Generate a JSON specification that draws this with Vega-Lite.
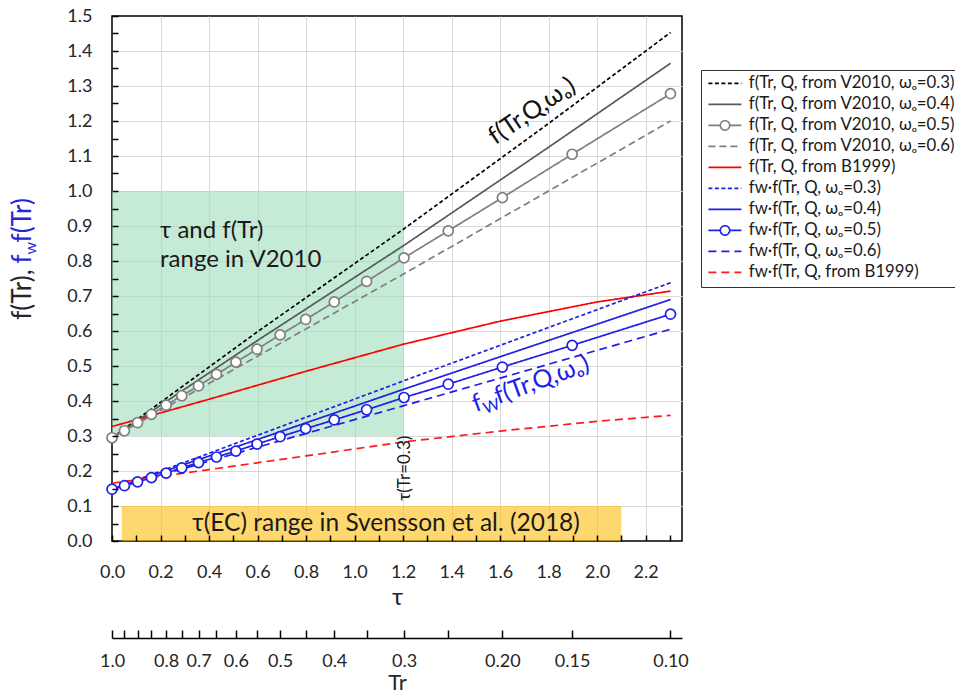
{
  "$schema": "https://vega.github.io/schema/vega-lite/v6.json",
  "width": 570,
  "height": 525,
  "autosize": {"type": "none"},
  "padding": {"left": 112, "top": 16, "right": 273, "bottom": 156},
  "background": "white",
  "config": {
    "font": "Lato",
    "view": {"stroke": "#000000", "strokeWidth": 1.5},
    "axis": {
      "labelFont": "Lato", "labelFontSize": 18, "labelColor": "#262626",
      "tickColor": "#000000", "tickWidth": 1.5,
      "domainColor": "#000000", "domainWidth": 1.5,
      "titleFont": "Lato", "titleFontSize": 24, "titleFontWeight": "normal", "titleColor": "#262626",
      "labelFlush": false, "labelOverlap": false, "grid": false
    },
    "text": {"font": "Lato"}
  },
  "datasets": {
    "ranges": [
      {"name": "V2010", "x1": 0, "x2": 1.204, "y1": 0.3, "y2": 1.0},
      {"name": "Svensson", "x1": 0.04, "x2": 2.1, "y1": 0.0, "y2": 0.1}
    ],
    "curves": [
      {"series": "f(Tr, Q, from V2010, ωₒ=0.3)", "tau": 0, "v": 0.295},
      {"series": "f(Tr, Q, from V2010, ωₒ=0.3)", "tau": 0.6, "v": 0.598},
      {"series": "f(Tr, Q, from V2010, ωₒ=0.3)", "tau": 1.2, "v": 0.89},
      {"series": "f(Tr, Q, from V2010, ωₒ=0.3)", "tau": 1.8, "v": 1.193},
      {"series": "f(Tr, Q, from V2010, ωₒ=0.3)", "tau": 2.303, "v": 1.453},
      {"series": "f(Tr, Q, from V2010, ωₒ=0.4)", "tau": 0, "v": 0.295},
      {"series": "f(Tr, Q, from V2010, ωₒ=0.4)", "tau": 0.6, "v": 0.573},
      {"series": "f(Tr, Q, from V2010, ωₒ=0.4)", "tau": 1.2, "v": 0.843},
      {"series": "f(Tr, Q, from V2010, ωₒ=0.4)", "tau": 1.8, "v": 1.125},
      {"series": "f(Tr, Q, from V2010, ωₒ=0.4)", "tau": 2.303, "v": 1.365},
      {"series": "f(Tr, Q, from V2010, ωₒ=0.5)", "Tr": 1.0, "tau": 0, "v": 0.295},
      {"series": "f(Tr, Q, from V2010, ωₒ=0.5)", "Tr": 0.95, "tau": 0.051, "v": 0.315},
      {"series": "f(Tr, Q, from V2010, ωₒ=0.5)", "Tr": 0.9, "tau": 0.105, "v": 0.338},
      {"series": "f(Tr, Q, from V2010, ωₒ=0.5)", "Tr": 0.85, "tau": 0.163, "v": 0.362},
      {"series": "f(Tr, Q, from V2010, ωₒ=0.5)", "Tr": 0.8, "tau": 0.223, "v": 0.388},
      {"series": "f(Tr, Q, from V2010, ωₒ=0.5)", "Tr": 0.75, "tau": 0.288, "v": 0.415},
      {"series": "f(Tr, Q, from V2010, ωₒ=0.5)", "Tr": 0.7, "tau": 0.357, "v": 0.443},
      {"series": "f(Tr, Q, from V2010, ωₒ=0.5)", "Tr": 0.65, "tau": 0.431, "v": 0.476},
      {"series": "f(Tr, Q, from V2010, ωₒ=0.5)", "Tr": 0.6, "tau": 0.511, "v": 0.511},
      {"series": "f(Tr, Q, from V2010, ωₒ=0.5)", "Tr": 0.55, "tau": 0.598, "v": 0.548},
      {"series": "f(Tr, Q, from V2010, ωₒ=0.5)", "Tr": 0.5, "tau": 0.693, "v": 0.589},
      {"series": "f(Tr, Q, from V2010, ωₒ=0.5)", "Tr": 0.45, "tau": 0.799, "v": 0.633},
      {"series": "f(Tr, Q, from V2010, ωₒ=0.5)", "Tr": 0.4, "tau": 0.916, "v": 0.683},
      {"series": "f(Tr, Q, from V2010, ωₒ=0.5)", "Tr": 0.35, "tau": 1.05, "v": 0.742},
      {"series": "f(Tr, Q, from V2010, ωₒ=0.5)", "Tr": 0.3, "tau": 1.204, "v": 0.809},
      {"series": "f(Tr, Q, from V2010, ωₒ=0.5)", "Tr": 0.25, "tau": 1.386, "v": 0.886},
      {"series": "f(Tr, Q, from V2010, ωₒ=0.5)", "Tr": 0.2, "tau": 1.609, "v": 0.981},
      {"series": "f(Tr, Q, from V2010, ωₒ=0.5)", "Tr": 0.15, "tau": 1.897, "v": 1.105},
      {"series": "f(Tr, Q, from V2010, ωₒ=0.5)", "Tr": 0.1, "tau": 2.303, "v": 1.278},
      {"series": "f(Tr, Q, from V2010, ωₒ=0.6)", "tau": 0, "v": 0.295},
      {"series": "f(Tr, Q, from V2010, ωₒ=0.6)", "tau": 0.6, "v": 0.528},
      {"series": "f(Tr, Q, from V2010, ωₒ=0.6)", "tau": 1.2, "v": 0.762},
      {"series": "f(Tr, Q, from V2010, ωₒ=0.6)", "tau": 1.8, "v": 1.0},
      {"series": "f(Tr, Q, from V2010, ωₒ=0.6)", "tau": 2.303, "v": 1.2},
      {"series": "f(Tr, Q, from B1999)", "tau": 0, "v": 0.327},
      {"series": "f(Tr, Q, from B1999)", "tau": 0.4, "v": 0.405},
      {"series": "f(Tr, Q, from B1999)", "tau": 0.8, "v": 0.485},
      {"series": "f(Tr, Q, from B1999)", "tau": 1.2, "v": 0.562},
      {"series": "f(Tr, Q, from B1999)", "tau": 1.6, "v": 0.628},
      {"series": "f(Tr, Q, from B1999)", "tau": 2.0, "v": 0.683},
      {"series": "f(Tr, Q, from B1999)", "tau": 2.303, "v": 0.714},
      {"series": "fw·f(Tr, Q, ωₒ=0.3)", "tau": 0, "v": 0.148},
      {"series": "fw·f(Tr, Q, ωₒ=0.3)", "tau": 0.6, "v": 0.302},
      {"series": "fw·f(Tr, Q, ωₒ=0.3)", "tau": 1.2, "v": 0.457},
      {"series": "fw·f(Tr, Q, ωₒ=0.3)", "tau": 1.8, "v": 0.61},
      {"series": "fw·f(Tr, Q, ωₒ=0.3)", "tau": 2.303, "v": 0.738},
      {"series": "fw·f(Tr, Q, ωₒ=0.4)", "tau": 0, "v": 0.148},
      {"series": "fw·f(Tr, Q, ωₒ=0.4)", "tau": 0.6, "v": 0.29},
      {"series": "fw·f(Tr, Q, ωₒ=0.4)", "tau": 1.2, "v": 0.433},
      {"series": "fw·f(Tr, Q, ωₒ=0.4)", "tau": 1.8, "v": 0.573},
      {"series": "fw·f(Tr, Q, ωₒ=0.4)", "tau": 2.303, "v": 0.69},
      {"series": "fw·f(Tr, Q, ωₒ=0.5)", "Tr": 1.0, "tau": 0, "v": 0.148},
      {"series": "fw·f(Tr, Q, ωₒ=0.5)", "Tr": 0.95, "tau": 0.051, "v": 0.158},
      {"series": "fw·f(Tr, Q, ωₒ=0.5)", "Tr": 0.9, "tau": 0.105, "v": 0.169},
      {"series": "fw·f(Tr, Q, ωₒ=0.5)", "Tr": 0.85, "tau": 0.163, "v": 0.181},
      {"series": "fw·f(Tr, Q, ωₒ=0.5)", "Tr": 0.8, "tau": 0.223, "v": 0.194},
      {"series": "fw·f(Tr, Q, ωₒ=0.5)", "Tr": 0.75, "tau": 0.288, "v": 0.209},
      {"series": "fw·f(Tr, Q, ωₒ=0.5)", "Tr": 0.7, "tau": 0.357, "v": 0.224},
      {"series": "fw·f(Tr, Q, ωₒ=0.5)", "Tr": 0.65, "tau": 0.431, "v": 0.24},
      {"series": "fw·f(Tr, Q, ωₒ=0.5)", "Tr": 0.6, "tau": 0.511, "v": 0.257},
      {"series": "fw·f(Tr, Q, ωₒ=0.5)", "Tr": 0.55, "tau": 0.598, "v": 0.277},
      {"series": "fw·f(Tr, Q, ωₒ=0.5)", "Tr": 0.5, "tau": 0.693, "v": 0.298},
      {"series": "fw·f(Tr, Q, ωₒ=0.5)", "Tr": 0.45, "tau": 0.799, "v": 0.321},
      {"series": "fw·f(Tr, Q, ωₒ=0.5)", "Tr": 0.4, "tau": 0.916, "v": 0.346},
      {"series": "fw·f(Tr, Q, ωₒ=0.5)", "Tr": 0.35, "tau": 1.05, "v": 0.375},
      {"series": "fw·f(Tr, Q, ωₒ=0.5)", "Tr": 0.3, "tau": 1.204, "v": 0.41},
      {"series": "fw·f(Tr, Q, ωₒ=0.5)", "Tr": 0.25, "tau": 1.386, "v": 0.448},
      {"series": "fw·f(Tr, Q, ωₒ=0.5)", "Tr": 0.2, "tau": 1.609, "v": 0.497},
      {"series": "fw·f(Tr, Q, ωₒ=0.5)", "Tr": 0.15, "tau": 1.897, "v": 0.559},
      {"series": "fw·f(Tr, Q, ωₒ=0.5)", "Tr": 0.1, "tau": 2.303, "v": 0.648},
      {"series": "fw·f(Tr, Q, ωₒ=0.6)", "tau": 0, "v": 0.148},
      {"series": "fw·f(Tr, Q, ωₒ=0.6)", "tau": 0.6, "v": 0.268},
      {"series": "fw·f(Tr, Q, ωₒ=0.6)", "tau": 1.2, "v": 0.386},
      {"series": "fw·f(Tr, Q, ωₒ=0.6)", "tau": 1.8, "v": 0.505},
      {"series": "fw·f(Tr, Q, ωₒ=0.6)", "tau": 2.303, "v": 0.605},
      {"series": "fw·f(Tr, Q, from B1999)", "tau": 0, "v": 0.165},
      {"series": "fw·f(Tr, Q, from B1999)", "tau": 0.4, "v": 0.204},
      {"series": "fw·f(Tr, Q, from B1999)", "tau": 0.8, "v": 0.243},
      {"series": "fw·f(Tr, Q, from B1999)", "tau": 1.2, "v": 0.283},
      {"series": "fw·f(Tr, Q, from B1999)", "tau": 1.6, "v": 0.314},
      {"series": "fw·f(Tr, Q, from B1999)", "tau": 2.0, "v": 0.342},
      {"series": "fw·f(Tr, Q, from B1999)", "tau": 2.303, "v": 0.359}
    ]
  },
  "layer": [
    {
      "data": {"name": "ranges"},
      "mark": {"type": "rect", "opacity": 0.6},
      "encoding": {
        "x": {"field": "x1", "type": "quantitative", "scale": {"domain": [0, 2.35], "nice": false, "zero": false},
          "axis": {"grid": true, "ticks": false, "labels": false, "domain": false, "title": null, "values": [0.2, 0.4, 0.6, 0.8, 1.0, 1.2, 1.4, 1.6, 1.8, 2.0, 2.2], "gridColor": "#d9d9d9", "gridWidth": 1, "zindex": 0}},
        "x2": {"field": "x2"},
        "y": {"field": "y1", "type": "quantitative", "scale": {"domain": [0, 1.5], "nice": false, "zero": false},
          "axis": {"grid": true, "ticks": false, "labels": false, "domain": false, "title": null, "values": [0.1, 0.2, 0.3, 0.4, 0.5, 0.6, 0.7, 0.8, 0.9, 1.0, 1.1, 1.2, 1.3, 1.4], "gridColor": "#d9d9d9", "gridWidth": 1, "zindex": 0}},
        "y2": {"field": "y2"},
        "fill": {"field": "name", "type": "nominal", "scale": {"domain": ["V2010", "Svensson"], "range": ["#9edebb", "#fdbe0d"]}, "legend": null}
      }
    },
    {
      "data": {"name": "curves"},
      "mark": {"type": "line", "strokeWidth": 1.7},
      "encoding": {
        "x": {"field": "tau", "type": "quantitative", "scale": {"domain": [0, 2.35], "nice": false, "zero": false},
          "axis": {"orient": "bottom", "values": [0, 0.1, 0.2, 0.3, 0.4, 0.5, 0.6, 0.7, 0.8, 0.9, 1.0, 1.1, 1.2, 1.3, 1.4, 1.5, 1.6, 1.7, 1.8, 1.9, 2.0, 2.1, 2.2, 2.3],
            "labelExpr": "round(datum.value * 10) % 2 === 0 ? format(datum.value, '.1f') : ''",
            "tickSize": -6, "labelPadding": 28, "domain": false, "title": "τ", "titleY": 56, "titleBaseline": "middle", "zindex": 1}},
        "y": {"field": "v", "type": "quantitative", "scale": {"domain": [0, 1.5], "nice": false, "zero": false},
          "axis": {"orient": "left", "values": [0, 0.05, 0.1, 0.15, 0.2, 0.25, 0.3, 0.35, 0.4, 0.45, 0.5, 0.55, 0.6, 0.65, 0.7, 0.75, 0.8, 0.85, 0.9, 0.95, 1.0, 1.05, 1.1, 1.15, 1.2, 1.25, 1.3, 1.35, 1.4, 1.45, 1.5],
            "labelExpr": "abs(datum.value * 10 - round(datum.value * 10)) < 0.001 ? format(datum.value, '.1f') : ''",
            "tickSize": -6, "labelPadding": 26, "domain": false, "title": null, "zindex": 1}},
        "order": {"field": "tau", "type": "quantitative"},
        "color": {"field": "series", "type": "nominal",
          "scale": {
            "domain": ["f(Tr, Q, from V2010, ωₒ=0.3)", "f(Tr, Q, from V2010, ωₒ=0.4)", "f(Tr, Q, from V2010, ωₒ=0.5)", "f(Tr, Q, from V2010, ωₒ=0.6)", "f(Tr, Q, from B1999)", "fw·f(Tr, Q, ωₒ=0.3)", "fw·f(Tr, Q, ωₒ=0.4)", "fw·f(Tr, Q, ωₒ=0.5)", "fw·f(Tr, Q, ωₒ=0.6)", "fw·f(Tr, Q, from B1999)"],
            "range": ["#000000", "#595959", "#7f7f7f", "#7f7f7f", "#ff0000", "#1f1fe6", "#1f1fe6", "#1f1fe6", "#1f1fe6", "#ff1a1a"]},
          "legend": {
            "orient": "none", "legendX": 589, "legendY": 54, "title": null,
            "labelFont": "Lato", "labelFontSize": 16.8, "labelColor": "#1a1a1a", "labelLimit": 400,
            "symbolSize": 100, "symbolStrokeWidth": 1.6, "symbolFillColor": "white", "symbolOpacity": 1, "symbolType": "stroke",
            "labelOffset": 26, "rowPadding": 3, "padding": 5,
            "strokeColor": "#333333", "fillColor": "white",
            "encoding": {"symbols": {"shape": {"condition": {"test": "indexof(datum.value, '=0.5)') >= 0", "value": "M-1.2,0H1.18M3.06,0H5.4M3.06,0A0.94,0.94,0,1,1,1.18,0A0.94,0.94,0,1,1,3.06,0"}, "value": "M-1.2,0H5.4"}}}
          }},
        "strokeDash": {"field": "series", "type": "nominal",
          "scale": {
            "domain": ["f(Tr, Q, from V2010, ωₒ=0.3)", "f(Tr, Q, from V2010, ωₒ=0.4)", "f(Tr, Q, from V2010, ωₒ=0.5)", "f(Tr, Q, from V2010, ωₒ=0.6)", "f(Tr, Q, from B1999)", "fw·f(Tr, Q, ωₒ=0.3)", "fw·f(Tr, Q, ωₒ=0.4)", "fw·f(Tr, Q, ωₒ=0.5)", "fw·f(Tr, Q, ωₒ=0.6)", "fw·f(Tr, Q, from B1999)"],
            "range": [[4, 2.5], [1, 0], [1, 0], [7, 4], [1, 0], [4, 2.5], [1, 0], [1, 0], [8, 5], [8, 5]]},
          "legend": {
            "orient": "none", "legendX": 589, "legendY": 54, "title": null,
            "labelFont": "Lato", "labelFontSize": 16.8, "labelColor": "#1a1a1a", "labelLimit": 400,
            "symbolSize": 100, "symbolStrokeWidth": 1.6, "symbolFillColor": "white", "symbolOpacity": 1, "symbolType": "stroke",
            "labelOffset": 26, "rowPadding": 3, "padding": 5,
            "strokeColor": "#333333", "fillColor": "white",
            "encoding": {"symbols": {"shape": {"condition": {"test": "indexof(datum.value, '=0.5)') >= 0", "value": "M-1.2,0H1.18M3.06,0H5.4M3.06,0A0.94,0.94,0,1,1,1.18,0A0.94,0.94,0,1,1,3.06,0"}, "value": "M-1.2,0H5.4"}}}
          }}
      }
    },
    {
      "data": {"name": "curves"},
      "transform": [{"filter": "isValid(datum.Tr)"}],
      "mark": {"type": "point", "filled": true, "fill": "white", "size": 100, "strokeWidth": 1.7, "opacity": 1},
      "encoding": {
        "x": {"field": "Tr", "type": "quantitative", "scale": {"type": "log", "domain": [0.0953692, 1], "reverse": true, "nice": false},
          "axis": {"orient": "bottom", "offset": 97, "values": [1, 0.95, 0.9, 0.85, 0.8, 0.75, 0.7, 0.65, 0.6, 0.55, 0.5, 0.45, 0.4, 0.35, 0.3, 0.25, 0.2, 0.15, 0.1],
            "labelExpr": "indexof([1, 0.8, 0.7, 0.6, 0.5, 0.4, 0.3], datum.value) >= 0 ? format(datum.value, '.1f') : (indexof([0.2, 0.15, 0.1], datum.value) >= 0 ? format(datum.value, '.2f') : '')",
            "tickSize": -8, "labelPadding": 22, "domain": true, "title": "Tr", "titleFontSize": 22, "titleY": 51, "titleBaseline": "alphabetic", "zindex": 1}},
        "y": {"field": "v", "type": "quantitative", "scale": {"domain": [0, 1.5], "nice": false, "zero": false}, "axis": null},
        "stroke": {"field": "series", "type": "nominal", "scale": {"domain": ["f(Tr, Q, from V2010, ωₒ=0.5)", "fw·f(Tr, Q, ωₒ=0.5)"], "range": ["#7f7f7f", "#1f1fe6"]}, "legend": null}
      }
    },
    {
      "layer": [
        {
          "data": {"values": [{"tau": 0.198, "v": 0.885, "label": "τ and f(Tr)"}, {"tau": 0.198, "v": 0.802, "label": "range in V2010"}]},
          "mark": {"type": "text", "align": "left", "baseline": "middle", "fontSize": 24, "color": "#1a1a1a"},
          "encoding": {
            "x": {"field": "tau", "type": "quantitative", "scale": {"domain": [0, 2.35], "nice": false, "zero": false},
              "axis": {"orient": "top", "values": [0.1, 0.2, 0.3, 0.4, 0.5, 0.6, 0.7, 0.8, 0.9, 1.0, 1.1, 1.2, 1.3, 1.4, 1.5, 1.6, 1.7, 1.8, 1.9, 2.0, 2.1, 2.2, 2.3], "labels": false, "tickSize": -6, "domain": false, "title": null, "zindex": 1}},
            "y": {"field": "v", "type": "quantitative", "scale": {"domain": [0, 1.5], "nice": false, "zero": false},
              "axis": {"orient": "right", "values": [0.05, 0.1, 0.15, 0.2, 0.25, 0.3, 0.35, 0.4, 0.45, 0.5, 0.55, 0.6, 0.65, 0.7, 0.75, 0.8, 0.85, 0.9, 0.95, 1.0, 1.05, 1.1, 1.15, 1.2, 1.25, 1.3, 1.35, 1.4, 1.45], "labels": false, "tickSize": -5, "domain": false, "title": null, "zindex": 1}},
            "text": {"field": "label"}
          }
        },
        {
          "data": {"values": [{"tau": 1.13, "v": 0.05, "label": "τ(EC) range in Svensson et al. (2018)"}]},
          "mark": {"type": "text", "align": "center", "baseline": "middle", "fontSize": 24.5, "color": "#1a1a1a"},
          "encoding": {
            "x": {"field": "tau", "type": "quantitative", "axis": null},
            "y": {"field": "v", "type": "quantitative", "axis": null},
            "text": {"field": "label"}
          }
        },
        {
          "data": {"values": [{"tau": 1.58, "v": 1.131, "label": "f(Tr,Q,ωₒ)"}]},
          "mark": {"type": "text", "align": "left", "baseline": "alphabetic", "fontSize": 25, "angle": 326, "color": "#111111"},
          "encoding": {
            "x": {"field": "tau", "type": "quantitative", "axis": null},
            "y": {"field": "v", "type": "quantitative", "axis": null},
            "text": {"field": "label"}
          }
        },
        {
          "data": {"values": [{"tau": 1.5, "v": 0.368, "label": "f"}]},
          "mark": {"type": "text", "align": "left", "baseline": "alphabetic", "fontSize": 25, "angle": 340, "color": "#1f1fe6"},
          "encoding": {
            "x": {"field": "tau", "type": "quantitative", "axis": null},
            "y": {"field": "v", "type": "quantitative", "axis": null},
            "text": {"field": "label"}
          }
        },
        {
          "data": {"values": [{"tau": 1.5, "v": 0.368, "label": "W"}]},
          "mark": {"type": "text", "align": "left", "baseline": "alphabetic", "fontSize": 16, "angle": 340, "dx": 8.5, "dy": 5, "color": "#1f1fe6"},
          "encoding": {
            "x": {"field": "tau", "type": "quantitative", "axis": null},
            "y": {"field": "v", "type": "quantitative", "axis": null},
            "text": {"field": "label"}
          }
        },
        {
          "data": {"values": [{"tau": 1.5, "v": 0.368, "label": "f(Tr,Q,ωₒ)"}]},
          "mark": {"type": "text", "align": "left", "baseline": "alphabetic", "fontSize": 25, "angle": 340, "dx": 23.5, "color": "#1f1fe6"},
          "encoding": {
            "x": {"field": "tau", "type": "quantitative", "axis": null},
            "y": {"field": "v", "type": "quantitative", "axis": null},
            "text": {"field": "label"}
          }
        },
        {
          "data": {"values": [{"tau": 1.21, "v": 0.208, "label": "τ(Tr=0.3)"}]},
          "mark": {"type": "text", "align": "center", "baseline": "middle", "fontSize": 17, "angle": 270, "color": "#1a1a1a"},
          "encoding": {
            "x": {"field": "tau", "type": "quantitative", "axis": null},
            "y": {"field": "v", "type": "quantitative", "axis": null},
            "text": {"field": "label"}
          }
        }
      ]
    },
    {
      "data": {"values": [{"tau": -0.334, "v": 0.793}]},
      "layer": [
        {
          "mark": {"type": "text", "align": "right", "baseline": "alphabetic", "fontSize": 26, "angle": 270, "dx": -6, "text": "f(Tr),", "color": "#262626", "clip": false},
          "encoding": {
            "x": {"field": "tau", "type": "quantitative", "scale": {"domain": [0, 2.35], "nice": false, "zero": false},
              "axis": {"orient": "bottom", "offset": 97, "values": [0, 2.3499], "labels": false, "tickSize": -16, "domain": false, "title": null, "zindex": 1}},
            "y": {"field": "v", "type": "quantitative", "scale": {"domain": [0, 1.5], "nice": false, "zero": false}, "axis": null}
          }
        },
        {
          "mark": {"type": "text", "align": "left", "baseline": "alphabetic", "fontSize": 26, "angle": 270, "text": "f", "color": "#2626d9", "clip": false},
          "encoding": {
            "x": {"field": "tau", "type": "quantitative", "axis": null},
            "y": {"field": "v", "type": "quantitative", "axis": null}
          }
        },
        {
          "mark": {"type": "text", "align": "left", "baseline": "alphabetic", "fontSize": 16, "angle": 270, "dx": 9, "dy": 5, "text": "w", "color": "#2626d9", "clip": false},
          "encoding": {
            "x": {"field": "tau", "type": "quantitative", "axis": null},
            "y": {"field": "v", "type": "quantitative", "axis": null}
          }
        },
        {
          "mark": {"type": "text", "align": "left", "baseline": "alphabetic", "fontSize": 26, "angle": 270, "dx": 21, "text": "f(Tr)", "color": "#2626d9", "clip": false},
          "encoding": {
            "x": {"field": "tau", "type": "quantitative", "axis": null},
            "y": {"field": "v", "type": "quantitative", "axis": null}
          }
        }
      ]
    }
  ],
  "resolve": {"scale": {"x": "independent", "y": "independent"}, "axis": {"x": "independent", "y": "independent"}}
}
